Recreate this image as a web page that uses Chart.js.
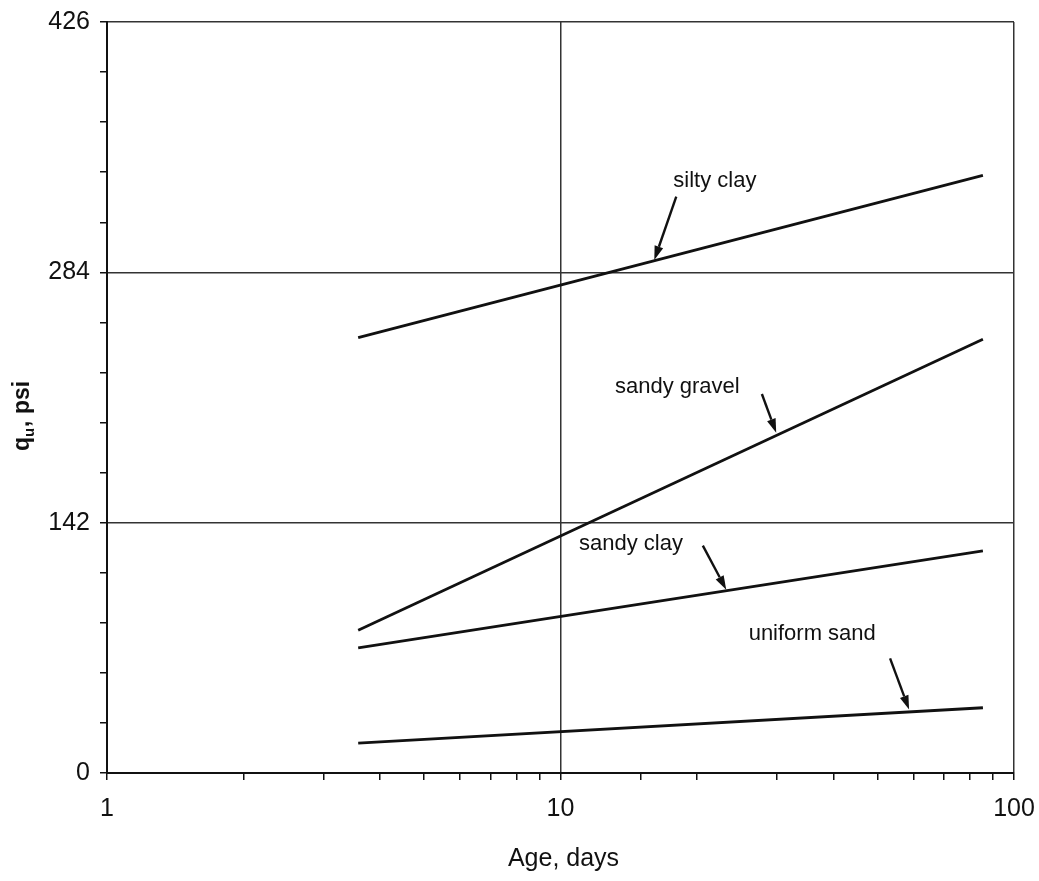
<!DOCTYPE html>
<html>
<head>
<meta charset="utf-8">
<script src="https://cdn.jsdelivr.net/npm/chart.js@4"></script>
<style>
  html, body { margin: 0; padding: 0; background: #fff; }
  #wrap { width: 1039px; height: 881px; position: relative; }
</style>
</head>
<body>
<div id="wrap"><canvas id="chart"></canvas></div>
<script>
// Data (age in days, q_u in psi)
var ageDays = [3.58, 85.4];
var siltyClay = [247, 339];
var sandyGravel = [81, 246];
var sandyClay = [71, 126];
var uniformSand = [17, 37];
var yTicks = [0, 142, 284, 426];
var xTicks = [1, 10, 100];

// Labels with arrows: [text, labelX, labelY, arrowFromX, arrowFromY, arrowToX, arrowToY]
var notes = [
    ['silty clay', 21.9, 336, 18.0, 327, 16.1, 291],
    ['sandy gravel', 18.1, 219, 27.8, 215, 29.9, 193],
    ['sandy clay', 14.3, 130, 20.6, 129, 23.2, 104],
    ['uniform sand', 35.9, 79, 53.3, 65, 58.7, 36]
];

function pts(ys) {
    return ageDays.map(function(x, i) { return { x: x, y: ys[i] }; });
}

function series(ys) {
    return {
        data: pts(ys),
        showLine: true,
        borderColor: '#111',
        borderWidth: 2.8,
        pointRadius: 0,
        fill: false
    };
}

function noPad(scale) {
    scale.paddingLeft = 0;
    scale.paddingRight = 0;
    scale.paddingTop = 0;
    scale.paddingBottom = 0;
}

var FONT = '"Liberation Sans", Arial, sans-serif';

var notesPlugin = {
    id: 'notes',
    afterDatasetsDraw: function(chart) {
        var ctx = chart.ctx;
        var xs = chart.scales.x, ys = chart.scales.y;
        ctx.save();
        ctx.fillStyle = '#111';
        ctx.strokeStyle = '#111';
        ctx.font = '22px ' + FONT;
        ctx.textAlign = 'center';
        ctx.textBaseline = 'middle';
        notes.forEach(function(n) {
            ctx.fillText(n[0], xs.getPixelForValue(n[1]), ys.getPixelForValue(n[2]));
            var x0 = xs.getPixelForValue(n[3]), y0 = ys.getPixelForValue(n[4]);
            var x1 = xs.getPixelForValue(n[5]), y1 = ys.getPixelForValue(n[6]);
            var a = Math.atan2(y1 - y0, x1 - x0);
            var hl = 14, hw = 4.5;
            var bx = x1 - hl * Math.cos(a), by = y1 - hl * Math.sin(a);
            ctx.lineWidth = 2.4;
            ctx.beginPath();
            ctx.moveTo(x0, y0);
            ctx.lineTo(bx, by);
            ctx.stroke();
            ctx.beginPath();
            ctx.moveTo(x1, y1);
            ctx.lineTo(bx + hw * Math.sin(a), by - hw * Math.cos(a));
            ctx.lineTo(bx - hw * Math.sin(a), by + hw * Math.cos(a));
            ctx.closePath();
            ctx.fill();
        });

        // axis titles
        ctx.font = '25px ' + FONT;
        ctx.fillText('Age, days', (chart.chartArea.left + chart.chartArea.right) / 2 + 3, 859);

        ctx.translate(23, 416);
        ctx.rotate(-Math.PI / 2);
        ctx.textAlign = 'left';
        ctx.font = 'bold 23px ' + FONT;
        var w = ctx.measureText('q').width;
        ctx.font = 'bold 15px ' + FONT;
        var w2 = ctx.measureText('u').width + 1;
        ctx.font = 'bold 23px ' + FONT;
        var total = w + w2 + ctx.measureText(', psi').width;
        var sx = -total / 2;
        ctx.fillText('q', sx, 0);
        ctx.font = 'bold 15px ' + FONT;
        ctx.fillText('u', sx + w, 7);
        ctx.font = 'bold 23px ' + FONT;
        ctx.fillText(', psi', sx + w + w2, 0);
        ctx.restore();
    }
};

new Chart(document.getElementById('chart'), {
    type: 'scatter',
    data: {
        datasets: [series(siltyClay), series(sandyGravel), series(sandyClay), series(uniformSand)]
    },
    options: {
        responsive: true,
        maintainAspectRatio: false,
        animation: false,
        layout: { padding: { top: 22, right: 25, left: 0, bottom: 0 } },
        plugins: {
            legend: { display: false },
            tooltip: { enabled: false }
        },
        scales: {
            x: {
                type: 'logarithmic',
                min: 1,
                max: 100,
                afterFit: function(scale) { scale.height = 108; noPad(scale); },
                border: { color: '#111', width: 2 },
                grid: {
                    color: function(c) {
                        var v = c.tick ? c.tick.value : null;
                        return (v === 10 || v === 100) ? '#333' : 'rgba(0,0,0,0)';
                    },
                    lineWidth: 1.5,
                    tickColor: '#111',
                    tickLength: 7,
                    drawTicks: true
                },
                ticks: {
                    autoSkip: false,
                    maxRotation: 0,
                    color: '#111',
                    padding: 14,
                    font: { family: FONT, size: 25 },
                    callback: function(v) {
                        return xTicks.indexOf(v) >= 0 ? String(v) : '';
                    }
                }
            },
            y: {
                min: 0,
                max: 426,
                afterFit: function(scale) { scale.width = 107; noPad(scale); },
                afterBuildTicks: function(scale) {
                    var t = [];
                    for (var i = 0; i <= 15; i++) {
                        t.push({ value: yTicks[3] * i / 15 });
                    }
                    scale.ticks = t;
                },
                border: { color: '#111', width: 2 },
                grid: {
                    color: function(c) {
                        return (c.index % 5 === 0) ? '#333' : 'rgba(0,0,0,0)';
                    },
                    lineWidth: 1.5,
                    tickColor: '#111',
                    tickLength: 7
                },
                ticks: {
                    color: '#111',
                    padding: 10,
                    font: { family: FONT, size: 25 },
                    callback: function(v, i) {
                        return (i % 5 === 0) ? String(yTicks[i / 5]) : '';
                    }
                }
            }
        }
    },
    plugins: [notesPlugin]
});
</script>
</body>
</html>
